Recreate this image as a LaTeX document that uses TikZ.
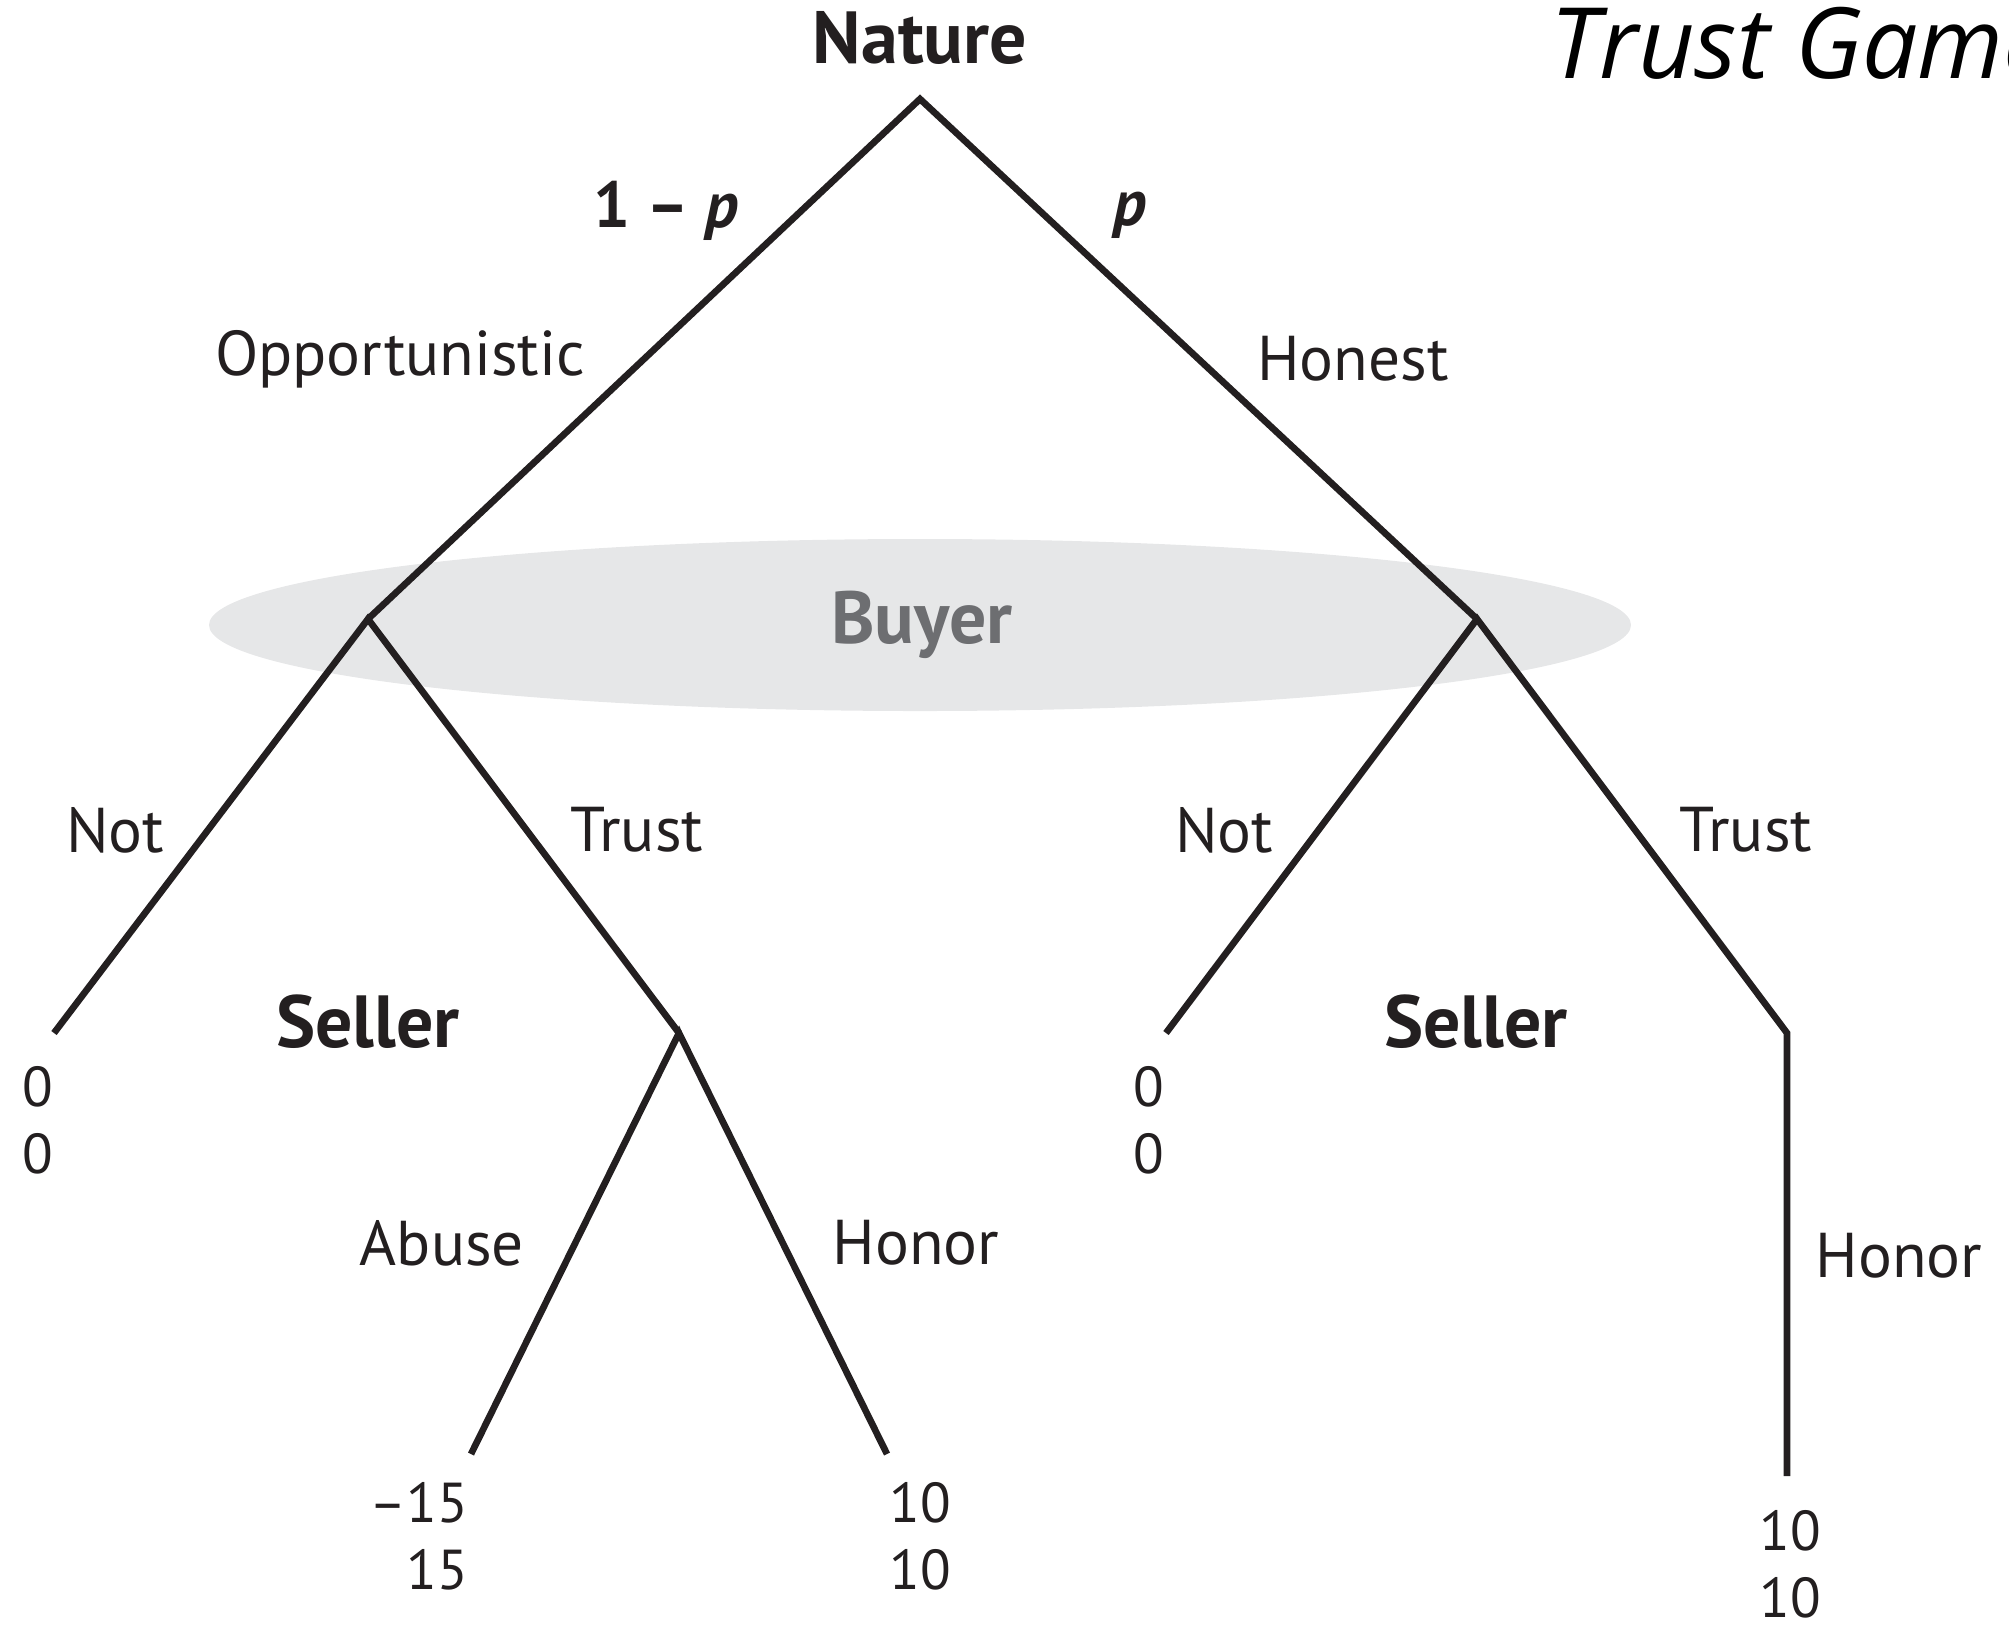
\documentclass[tikz,border=0pt]{standalone}
\usepackage{fontspec}
\setmainfont{PT Sans}
\newfontfamily\titlefont{Open Sans}
\definecolor{inkblack}{HTML}{231F20}
\definecolor{setgray}{HTML}{E6E7E8}
\definecolor{setink}{HTML}{6D6E71}
\begin{document}
\begin{tikzpicture}[x=0.01cm,y=-0.01cm,inner sep=0pt,outer sep=0pt,line width=1.9pt,
branch/.style={draw=inkblack},
lbl/.style={font=\fontsize{18}{21}\selectfont,text=inkblack},
player/.style={font=\fontsize{21}{24}\selectfont\bfseries,text=inkblack},
payoff/.style={font=\fontsize{16}{19}\selectfont,text=inkblack,align=center}]
\useasboundingbox (0,0) rectangle (2009,1629);
% information set of the buyer
\fill[setgray] (920,625) ellipse [x radius=711, y radius=86];
\node[player,text=setink] (buyer) at (922,625) {Buyer};
% decision points
\coordinate (nat) at (920,99);
\coordinate (bopp) at (368,619);
\coordinate (bhon) at (1477,619);
\coordinate (onot) at (54,1033);
\coordinate (osel) at (679,1033);
\coordinate (oabu) at (471,1454);
\coordinate (ohon) at (887,1454);
\coordinate (hnot) at (1166,1033);
\coordinate (hsel) at (1787,1033);
\coordinate (hhon) at (1787,1476);
% branches
\draw[branch] (bopp) -- (nat) -- (bhon);
\draw[branch] (onot) -- (bopp) -- (osel);
\draw[branch] (oabu) -- (osel) -- (ohon);
\draw[branch] (hnot) -- (bhon) -- (hsel) -- (hhon);
% players
\node[player] (nature) at (920,38) {Nature};
\node[player] (sell1) at (368,1022) {Seller};
\node[player] (sell2) at (1476,1022) {Seller};
\node[anchor=base west,font=\fontsize{28}{33}\selectfont\titlefont\itshape] (title) at (1550,78) {Trust Game};
% moves
\node[player,font=\fontsize{18.5}{22}\selectfont\bfseries] (prq) at (666,211) {1 \textendash{} \textit{p}};
\node[player,font=\fontsize{18.5}{22}\selectfont\bfseries\itshape] (prp) at (1130,215) {p};
\node[lbl] (lopp) at (400,359) {Opportunistic};
\node[lbl] (lhon) at (1353,359) {Honest};
\node[lbl] (lnot1) at (115,830) {Not};
\node[lbl] (ltr1) at (637,830) {Trust};
\node[lbl] (lnot2) at (1224,830) {Not};
\node[lbl] (ltr2) at (1746,830) {Trust};
\node[lbl] (labu) at (442,1243) {Abuse};
\node[lbl] (lhno1) at (916,1243) {Honor};
\node[lbl] (lhno2) at (1899,1256) {Honor};
% payoffs
\node[payoff] (pay1) at (38,1120) {0\\0};
\node[payoff,align=right] (pay2) at (419,1536) {\textendash15\\15};
\node[payoff] (pay3) at (920,1536) {10\\10};
\node[payoff] (pay4) at (1149,1120) {0\\0};
\node[payoff] (pay5) at (1790,1564) {10\\10};
\end{tikzpicture}
\end{document}
